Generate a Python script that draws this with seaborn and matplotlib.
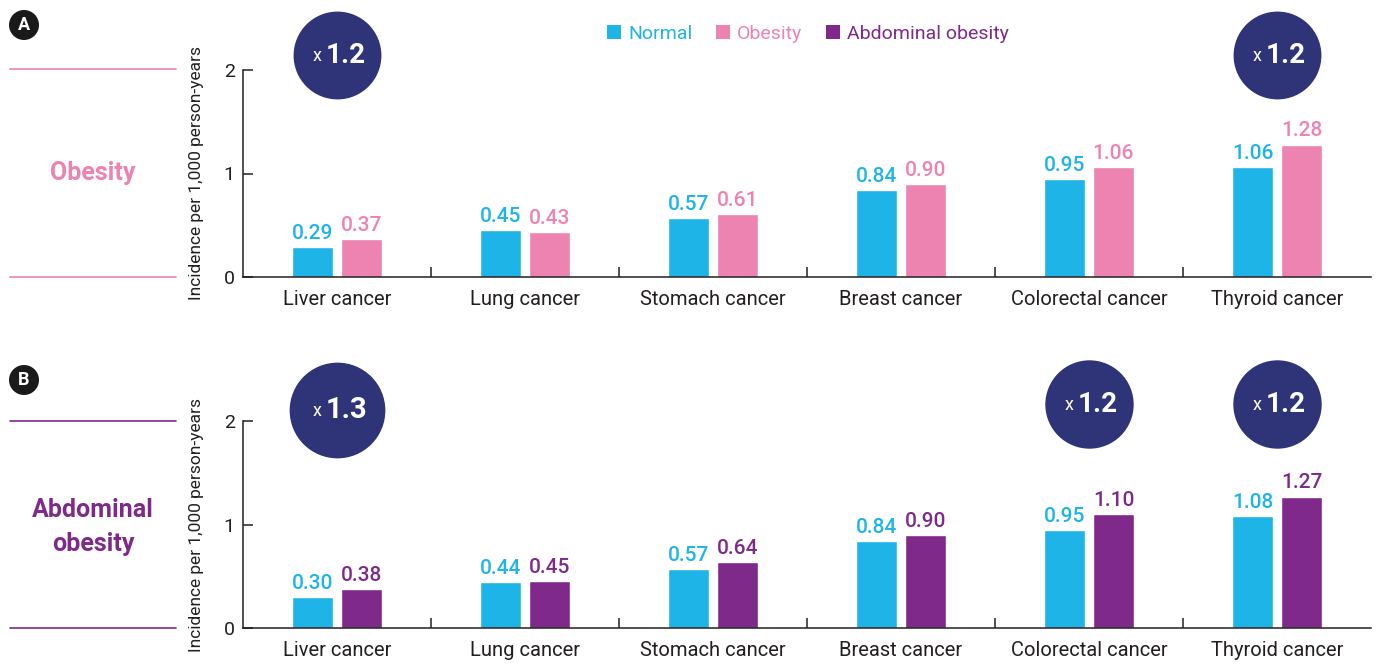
import matplotlib
matplotlib.use("Agg")
import matplotlib.pyplot as plt
import matplotlib.transforms as mtransforms
from matplotlib.lines import Line2D
from matplotlib.patches import Patch, Circle
import seaborn as sns
import pandas as pd

# ---- data ----
cancers = ["Liver cancer", "Lung cancer", "Stomach cancer",
           "Breast cancer", "Colorectal cancer", "Thyroid cancer"]

normal_a = [0.29, 0.45, 0.57, 0.84, 0.95, 1.06]
obesity_a = [0.37, 0.43, 0.61, 0.90, 1.06, 1.28]

normal_b = [0.30, 0.44, 0.57, 0.84, 0.95, 1.08]
abdominal_b = [0.38, 0.45, 0.64, 0.90, 1.10, 1.27]

# highlighted risk ratios (category, ratio text)
ratios_a = [("Liver cancer", "1.2"), ("Thyroid cancer", "1.2")]
ratios_b = [("Liver cancer", "1.3"), ("Colorectal cancer", "1.2"),
            ("Thyroid cancer", "1.2")]

groups = ["Normal", "Obesity", "Abdominal obesity"]
yticks = [0, 1, 2]
ylabel = "Incidence per 1,000 person-years"

# ---- style ----
BLUE = "#1fb4e8"
PINK = "#ec83b0"
PURPLE = "#7f2a8a"
NAVY = "#2f3378"
INK = "#231f20"

sns.set_theme(style="white")
plt.rcParams["font.family"] = ["Roboto", "DejaVu Sans"]

DPI = 100
fig = plt.figure(figsize=(13.78, 6.64), dpi=DPI)
W, H = 1378, 664


def fx(px):
    return px / W


def fy(py):
    return 1 - py / H


def draw_panel(ax, base, other, other_name, other_color, ratios, ratio_y):
    df = pd.DataFrame({
        "cancer": cancers * 2,
        "group": ["Normal"] * len(cancers) + [other_name] * len(cancers),
        "value": base + other,
    })
    sns.barplot(data=df, x="cancer", y="value", hue="group",
                hue_order=["Normal", other_name],
                palette=[BLUE, other_color], saturation=1,
                width=0.52, gap=0.17, legend=False, ax=ax,
                errorbar=None)
    for cont, col in zip(ax.containers, [BLUE, other_color]):
        ax.bar_label(cont, fmt="{:.2f}", padding=3, color=col,
                     fontsize=15, fontweight="medium")

    ax.set_xlim(-0.5, 5.5)
    ax.set_ylim(0, 2)
    ax.set_yticks(yticks)
    ax.set_xlabel("")
    ax.set_ylabel(ylabel, fontsize=12.5, color=INK, labelpad=14)
    sns.despine(ax=ax)
    for s in ["left", "bottom"]:
        ax.spines[s].set_color(INK)
        ax.spines[s].set_linewidth(1.1)
    ax.tick_params(axis="y", direction="in", length=7, width=1.1,
                   colors=INK, labelsize=14, pad=6, left=True)
    ax.tick_params(axis="x", which="major", length=0, labelsize=14.5,
                   colors=INK, pad=9)
    ax.set_xticks([i + 0.5 for i in range(len(cancers) - 1)], minor=True)
    ax.tick_params(axis="x", which="minor", direction="in", length=7,
                   width=1.1, color=INK, bottom=True)

    trans = mtransforms.blended_transform_factory(ax.transData, ax.transAxes)
    for (name, txt), (yy, size, fs) in zip(ratios, ratio_y):
        i = cancers.index(name)
        ax.scatter([i], [yy], s=size, color=NAVY, transform=trans,
                   clip_on=False, zorder=5, linewidths=0)
        ax.annotate(txt, xy=(i, yy), xycoords=trans, xytext=(-8, 0),
                    textcoords="offset points", ha="left", va="center",
                    fontsize=fs, fontweight="bold", color="white", zorder=6,
                    annotation_clip=False)
        ax.annotate("x", xy=(i, yy), xycoords=trans, xytext=(-11, -1),
                    textcoords="offset points", ha="right", va="center",
                    fontsize=13, color="white", zorder=6,
                    annotation_clip=False)
    ax.set_xlim(-0.5, 5.5)
    ax.set_ylim(0, 2)


left, right = fx(243), fx(1371)
ax_a = fig.add_axes([left, fy(277), right - left, fy(70) - fy(277)])
ax_b = fig.add_axes([left, fy(628), right - left, fy(421) - fy(628)])

draw_panel(ax_a, normal_a, obesity_a, "Obesity", PINK, ratios_a,
           [(1.072, 4000, 20), (1.072, 4000, 20)])
draw_panel(ax_b, normal_b, abdominal_b, "Abdominal obesity", PURPLE,
           ratios_b, [(1.053, 4750, 21), (1.082, 4050, 20), (1.082, 4050, 20)])

# left-hand group labels with rules
for y0, y1, col in [(69, 277, PINK), (421, 628, PURPLE)]:
    for yy in (y0, y1):
        fig.add_artist(Line2D([fx(10), fx(176)], [fy(yy), fy(yy)],
                              color=col, lw=1.2))
fig.text(fx(93), fy(173), "Obesity", color=PINK, fontsize=18,
         fontweight="bold", ha="center", va="center")
fig.text(fx(93), fy(527), "Abdominal\nobesity", color=PURPLE, fontsize=18,
         fontweight="bold", ha="center", va="center", linespacing=1.5)

# panel badges (round, sized in inches)
for letter, cy in [("A", 25), ("B", 380)]:
    fig.add_artist(Circle((24 / DPI, (H - cy) / DPI), 15 / DPI,
                          facecolor="#1a1a1a", edgecolor="none",
                          transform=fig.dpi_scale_trans))
    fig.text(fx(24), fy(cy), letter, color="white", fontsize=13,
             fontweight="bold", ha="center", va="center")

# legend
handles = [Patch(facecolor=c, edgecolor="none") for c in (BLUE, PINK, PURPLE)]
leg = fig.legend(handles, groups, loc="center", ncol=3,
                 bbox_to_anchor=(fx(808), fy(34)), frameon=False,
                 fontsize=14, handlelength=0.75, handleheight=0.75,
                 handletextpad=0.35, columnspacing=1.2)
for t, c in zip(leg.get_texts(), (BLUE, PINK, PURPLE)):
    t.set_color(c)

fig.savefig("out.png", dpi=DPI)
